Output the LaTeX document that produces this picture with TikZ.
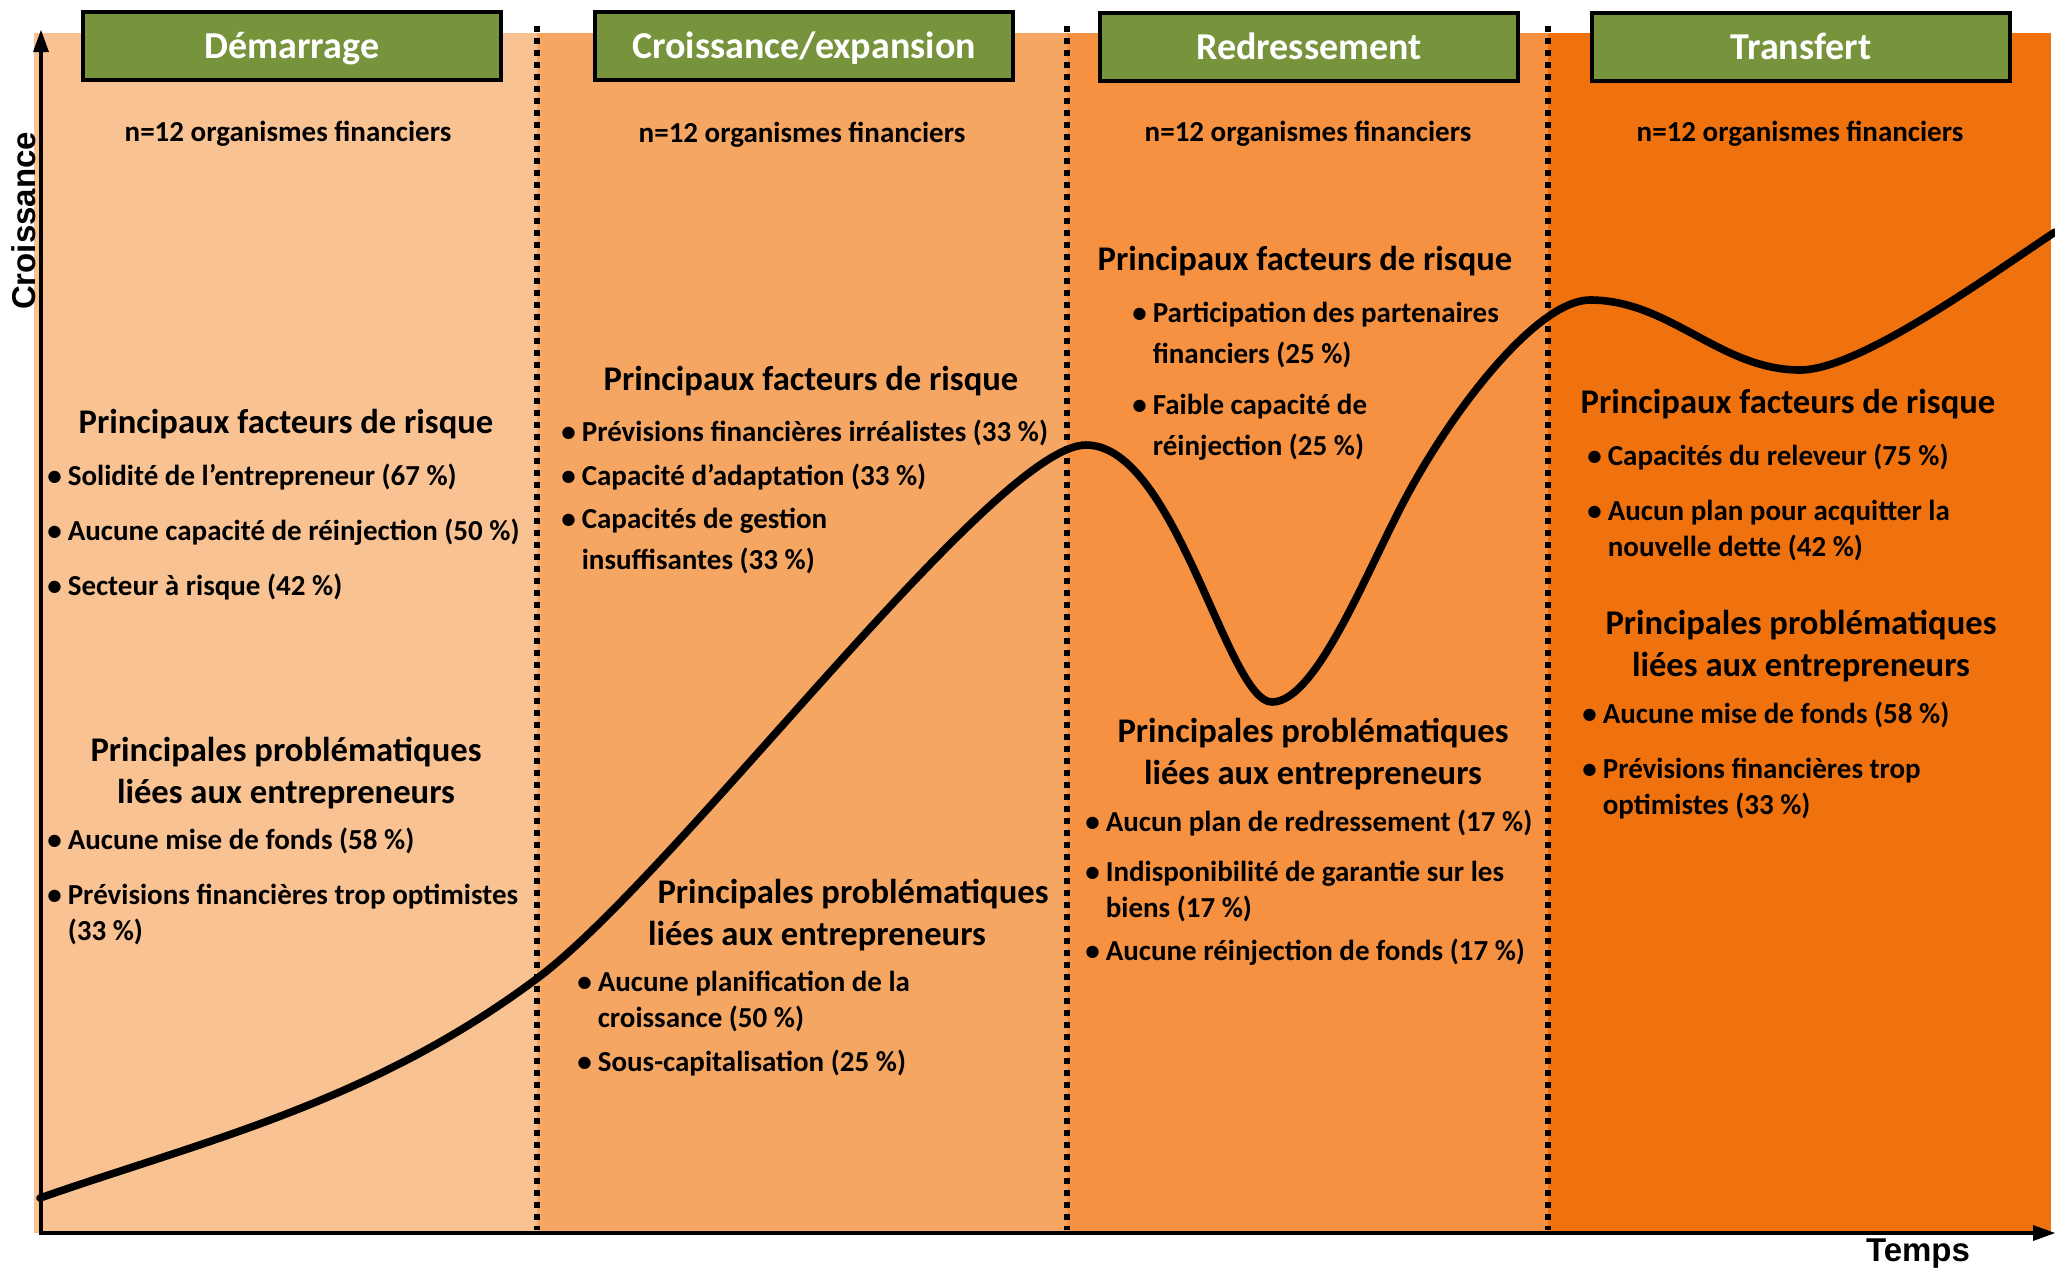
\documentclass[tikz,border=0pt]{standalone}
\usepackage{fontspec}
\setmainfont{Carlito}
\newfontfamily\axefont{Liberation Sans}
\usetikzlibrary{positioning}

\definecolor{phaseA}{RGB}{248,194,146}
\definecolor{phaseB}{RGB}{245,166,99}
\definecolor{phaseC}{RGB}{245,145,64}
\definecolor{phaseD}{RGB}{239,114,14}
\definecolor{vertentete}{RGB}{119,147,60}

\newcommand{\puce}[1]{\begin{tabular}[t]{@{}l@{\hspace{3pt}}l@{}}\textbullet & #1\end{tabular}}

\tikzset{
  entete/.style={draw=black, line width=1.8pt, fill=vertentete, text=white,
    minimum width=209pt, minimum height=34pt, inner sep=0pt,
    text height=12.6pt, text depth=0pt,
    font=\fontsize{19}{23}\selectfont\bfseries},
  effectif/.style={inner sep=0pt, font=\fontsize{14.5}{18}\selectfont\bfseries},
  titre/.style={inner sep=0pt, align=center, font=\fontsize{17.3}{21}\selectfont\bfseries},
  item/.style={anchor=base west, inner sep=0pt, font=\fontsize{14.5}{18}\selectfont\bfseries},
  separateur/.style={line width=2.8pt, dash pattern=on 3pt off 3pt},
  axetrait/.style={line width=2pt},
  axelabel/.style={inner sep=0pt, font=\axefont\fontsize{16.5}{19}\selectfont\bfseries},
  courbe/.style={line width=3.8pt, line cap=round}
}

\begin{document}
\begin{tikzpicture}[x=0.5pt, y=-0.5pt]
	\useasboundingbox (0,0) rectangle (2055,1270);
	% phases
	\fill [phaseA] (34,33) rectangle (537,1233);
	\fill [phaseB] (537,33) rectangle (1067,1233);
	\fill [phaseC] (1067,33) rectangle (1548,1233);
	\fill [phaseD] (1548,33) rectangle (2051,1233);
	\draw [separateur] (537,26) -- (537,1230);
	\draw [separateur] (1067,26) -- (1067,1230);
	\draw [separateur] (1548,26) -- (1548,1230);

	% courbe de croissance
	\draw [courbe] (40,1198) .. controls (206,1140) and (373,1102) .. (539,977)
		.. controls (680,870) and (995,445) .. (1086,445)
		.. controls (1176,445) and (1227,702) .. (1272,702)
		.. controls (1318,702) and (1370,562) .. (1410,490)
		.. controls (1460,399) and (1540,300) .. (1590,300)
		.. controls (1670,300) and (1720,370) .. (1800,370)
		.. controls (1860,370) and (1990,275) .. (2055,232);

	% axes
	\coordinate (origine) at (41,1233);
	\coordinate (haut) at (41,30);
	\coordinate (droite) at (2055,1233);
	\draw [axetrait] (origine) -- (41,50);
	\fill [black] (haut) -- (33,52) -- (49,52) -- cycle;
	\draw [axetrait] (39,1233) -- (2035,1233);
	\fill [black] (droite) -- (2033,1225) -- (2033,1241) -- cycle;
	\node [axelabel, rotate=90] (croissance) at (24,221) {Croissance};
	\node [axelabel] (temps) at (1918,1254) {Temps};

	% en-tetes
	\node [entete] (demarrage) at (292,46) {Démarrage};
	\node [entete] (expansion) at (804,46) {Croissance/expansion};
	\node [entete] (redressement) at (1309,47) {Redressement};
	\node [entete] (transfert) at (1801,47) {Transfert};
	\node [effectif] (nA) at (288,134) {n=12 organismes financiers};
	\node [effectif] (nB) at (802,135) {n=12 organismes financiers};
	\node [effectif] (nC) at (1308,134) {n=12 organismes financiers};
	\node [effectif] (nD) at (1800,134) {n=12 organismes financiers};

	% demarrage
	\node [titre] (risqueA) at (286,424) {Principaux facteurs de risque};
	\node [item] (rA1) at (47,485) {\puce{Solidité de l’entrepreneur (67~\%)}};
	\node [item] (rA2) at (47,540) {\puce{Aucune capacité de réinjection (50~\%)}};
	\node [item] (rA3) at (47,595) {\puce{Secteur à risque (42~\%)}};
	\node [titre] (probA) at (286,773) {Principales problématiques\\liées aux entrepreneurs};
	\node [item] (pA1) at (47,849) {\puce{Aucune mise de fonds (58~\%)}};
	\node [item] (pA2) at (47,904) {\puce{Prévisions financières trop optimistes\\ & (33~\%)}};

	% croissance/expansion
	\node [titre] (risqueB) at (811,381) {Principaux facteurs de risque};
	\node [item] (rB1) at (561,441) {\puce{Prévisions financières irréalistes (33~\%)}};
	\node [item] (rB2) at (561,485) {\puce{Capacité d’adaptation (33~\%)}};
	\node [item] (rB3) at (561,528) {\puce{Capacités de gestion\\[2.6pt] & insuffisantes (33~\%)}};
	\node [titre] (probB) at (853,894) {Principales problématiques};
	\node [titre] (probBb) at (817,936) {liées aux entrepreneurs};
	\node [item] (pB1) at (577,991) {\puce{Aucune planification de la\\ & croissance (50~\%)}};
	\node [item] (pB2) at (577,1071) {\puce{Sous-capitalisation (25~\%)}};

	% redressement
	\node [titre] (risqueC) at (1305,261) {Principaux facteurs de risque};
	\node [item] (rC1) at (1132,322) {\puce{Participation des partenaires\\[2.6pt] & financiers (25~\%)}};
	\node [item] (rC2) at (1132,414) {\puce{Faible capacité de\\[2.6pt] & réinjection (25~\%)}};
	\node [titre] (probC) at (1313,754) {Principales problématiques\\liées aux entrepreneurs};
	\node [item] (pC1) at (1085,831) {\puce{Aucun plan de redressement (17~\%)}};
	\node [item] (pC2) at (1085,881) {\puce{Indisponibilité de garantie sur les\\ & biens (17~\%)}};
	\node [item] (pC3) at (1085,960) {\puce{Aucune réinjection de fonds (17~\%)}};

	% transfert
	\node [titre] (risqueD) at (1788,404) {Principaux facteurs de risque};
	\node [item] (rD1) at (1587,465) {\puce{Capacités du releveur (75~\%)}};
	\node [item] (rD2) at (1587,520) {\puce{Aucun plan pour acquitter la\\ & nouvelle dette (42~\%)}};
	\node [titre] (probD) at (1801,646) {Principales problématiques\\liées aux entrepreneurs};
	\node [item] (pD1) at (1582,723) {\puce{Aucune mise de fonds (58~\%)}};
	\node [item] (pD2) at (1582,778) {\puce{Prévisions financières trop\\ & optimistes (33~\%)}};
\end{tikzpicture}
\end{document}
